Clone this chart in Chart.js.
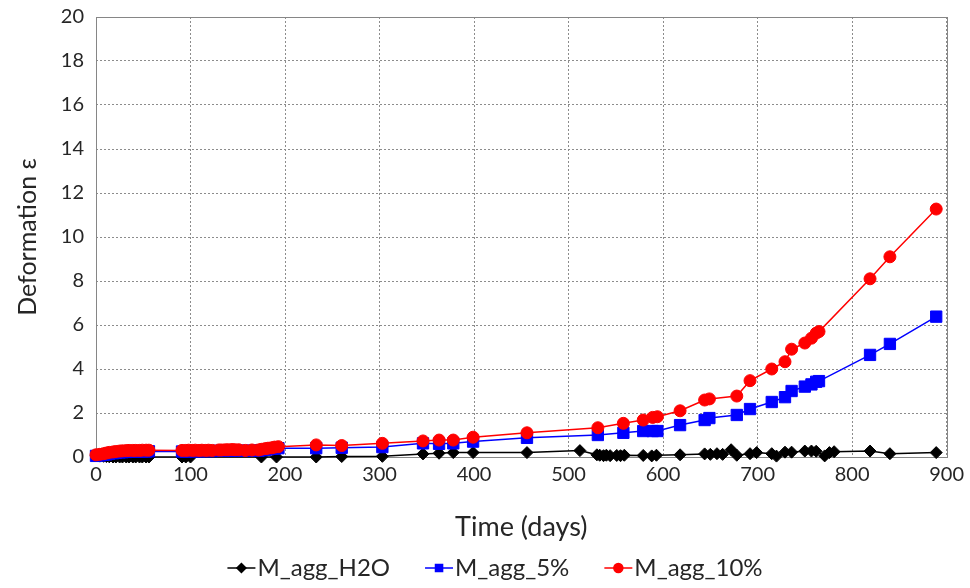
<!DOCTYPE html>
<html>
<head>
<meta charset="utf-8">
<script src="https://cdn.jsdelivr.net/npm/chart.js@4.4.1/dist/chart.umd.min.js"></script>
<style>
  html, body { margin: 0; padding: 0; background: #fff; }
</style>
</head>
<body>
<canvas id="chart" width="970" height="588"></canvas>
<script>
// --- DATA ---
const seriesNames = ['M_agg_H2O', 'M_agg_5%', 'M_agg_10%'];

const h2oDays = [0, 4, 8, 11, 14, 18, 21, 25, 28, 32, 35, 39, 42, 46, 49, 53, 56, 91, 95, 100, 175, 191, 233,
  260, 303, 346, 363, 378, 399, 456, 512, 530, 533, 537, 540, 544, 551, 555, 559, 579, 588, 593, 618,
  644, 650, 657, 663, 672, 678, 692, 699, 715, 720, 729, 736, 750, 757, 762, 771, 776, 781, 819, 840, 889];
const h2oValues = [0.05, 0.04, 0.03, 0.02, 0.01, 0, 0, 0, 0, 0, 0, 0, 0, 0, 0, 0, 0, 0, 0, 0, 0, 0, 0,
  0.02, 0.03, 0.14, 0.17, 0.2, 0.2, 0.2, 0.29, 0.1, 0.08, 0.06, 0.08, 0.06, 0.07, 0.06, 0.08, 0.07, 0.05, 0.08, 0.1,
  0.14, 0.12, 0.15, 0.12, 0.33, 0.08, 0.15, 0.2, 0.15, 0.04, 0.22, 0.22, 0.27, 0.27, 0.26, 0.05, 0.2, 0.24, 0.27, 0.15, 0.2];

// 5% and 10% were measured on the same days
const aggDays = [0, 4, 8, 11, 14, 18, 21, 25, 28, 32, 35, 39, 42, 46, 49, 53, 56,
  91, 95, 98, 102, 105, 109, 112, 116, 119, 123,
  130, 133, 137, 140, 144, 147, 151, 158, 165,
  172, 175, 179, 182, 186, 189, 193,
  233, 260, 303, 346, 363, 378, 399, 456, 531, 558, 579, 589, 594, 618,
  644, 649, 678, 692, 715, 729, 736, 750, 757, 762, 765, 819, 840, 889];
const agg5Values = [0.05, 0.07, 0.1, 0.12, 0.15, 0.17, 0.19, 0.21, 0.22, 0.23, 0.24, 0.24, 0.25, 0.25, 0.25, 0.25, 0.26,
  0.25, 0.25, 0.26, 0.26, 0.26, 0.26, 0.27, 0.27, 0.27, 0.27,
  0.28, 0.28, 0.28, 0.29, 0.29, 0.29, 0.29, 0.28, 0.29,
  0.29, 0.31, 0.33, 0.35, 0.37, 0.38, 0.4,
  0.4, 0.42, 0.45, 0.62, 0.6, 0.62, 0.7, 0.87, 1.0, 1.1, 1.18, 1.18, 1.18, 1.45,
  1.68, 1.77, 1.91, 2.18, 2.5, 2.72, 3.0, 3.2, 3.3, 3.42, 3.45, 4.64, 5.14, 6.38];
const agg10Values = [0.1, 0.12, 0.15, 0.18, 0.21, 0.23, 0.25, 0.27, 0.28, 0.29, 0.3, 0.3, 0.3, 0.3, 0.31, 0.31, 0.31,
  0.3, 0.3, 0.31, 0.3, 0.31, 0.3, 0.31, 0.3, 0.31, 0.3,
  0.32, 0.32, 0.33, 0.33, 0.34, 0.33, 0.33, 0.3, 0.32,
  0.32, 0.35, 0.38, 0.4, 0.42, 0.45, 0.47,
  0.55, 0.52, 0.62, 0.73, 0.77, 0.77, 0.9, 1.1, 1.33, 1.53, 1.68, 1.8, 1.83, 2.1,
  2.59, 2.64, 2.77, 3.47, 4.0, 4.33, 4.9, 5.18, 5.4, 5.63, 5.7, 8.1, 9.1, 11.27];

const xTickValues = [0, 100, 200, 300, 400, 500, 600, 700, 800, 900];
const yTickValues = [0, 2, 4, 6, 8, 10, 12, 14, 16, 18, 20];

// --- HELPERS ---
const FONT = 'Lato, "Open Sans", sans-serif';
const TEXT = '#262626';

function toPoints(days, values) {
    return days.map((d, i) => ({ x: d, y: values[i] }));
}

// solid frame round the plot area (Excel style)
const framePlugin = {
    id: 'frame',
    beforeDatasetsDraw(chart) {
        const { ctx, chartArea: a } = chart;
        ctx.save();
        ctx.strokeStyle = '#868686';
        ctx.lineWidth = 1;
        ctx.strokeRect(Math.round(a.left) + 0.5, Math.round(a.top) + 0.5,
            Math.round(a.right - a.left), Math.round(a.bottom - a.top));
        ctx.restore();
    }
};

// legend with a line through each marker, drawn under the x title
const lineLegendPlugin = {
    id: 'lineLegend',
    afterDraw(chart) {
        const { ctx } = chart;
        const sets = chart.data.datasets;
        const lineLen = 28, gap = 2, itemGap = 35;
        const centerX = 495, y = 568;
        ctx.save();
        ctx.font = '24px ' + FONT;
        ctx.textBaseline = 'middle';
        const widths = sets.map(ds => lineLen + gap + ctx.measureText(ds.label).width);
        const total = widths.reduce((s, w) => s + w, 0) + itemGap * (sets.length - 1);
        let x = centerX - total / 2;
        sets.forEach((ds, i) => {
            ctx.strokeStyle = ds.borderColor;
            ctx.lineWidth = 1.5;
            ctx.beginPath();
            ctx.moveTo(x, y);
            ctx.lineTo(x + lineLen, y);
            ctx.stroke();
            ctx.fillStyle = ds.pointBackgroundColor;
            ctx.strokeStyle = ds.pointBorderColor;
            Chart.helpers.drawPoint(ctx, {
                pointStyle: ds.pointStyle,
                radius: ds.pointStyle === 'rect' ? 5 : 4.5,
                borderWidth: 1,
                rotation: 0
            }, x + lineLen / 2, y);
            ctx.fillStyle = TEXT;
            ctx.fillText(ds.label, x + lineLen + gap, y);
            x += widths[i] + itemGap;
        });
        ctx.restore();
    }
};

function makeSeries(label, days, values, color, style, radius, order) {
    return {
        label: label,
        data: toPoints(days, values),
        borderColor: color,
        backgroundColor: color,
        pointBackgroundColor: color,
        pointBorderColor: color,
        pointStyle: style,
        pointRadius: radius,
        pointBorderWidth: 1,
        borderWidth: 1.5,
        tension: 0,
        order: order,
        clip: false
    };
}

const ctx = document.getElementById('chart');

new Chart(ctx, {
    type: 'line',
    data: {
        datasets: [
            makeSeries(seriesNames[0], h2oDays, h2oValues, '#000000', 'rectRot', 6, 2),
            makeSeries(seriesNames[1], aggDays, agg5Values, '#0000FF', 'rect', 8, 1),
            makeSeries(seriesNames[2], aggDays, agg10Values, '#FF0000', 'circle', 6, 0)
        ]
    },
    options: {
        responsive: false,
        animation: false,
        layout: { padding: { top: 17, right: 23, bottom: 45, left: 0 } },
        plugins: {
            legend: { display: false },
            tooltip: { enabled: false }
        },
        scales: {
            x: {
                type: 'linear',
                min: xTickValues[0],
                max: xTickValues[xTickValues.length - 1],
                afterBuildTicks: axis => { axis.ticks = xTickValues.map(v => ({ value: v })); },
                afterFit: axis => { axis.height = 86; },
                grid: { color: '#8c8c8c', lineWidth: 1, drawTicks: false },
                border: { display: false, dash: [2, 2] },
                ticks: { color: TEXT, font: { family: FONT, size: 20 }, padding: 6, maxRotation: 0 },
                title: {
                    display: true, text: 'Time (days)', color: TEXT,
                    font: { family: FONT, size: 27 }, padding: { top: 0, bottom: 0 }
                }
            },
            y: {
                min: yTickValues[0],
                max: yTickValues[yTickValues.length - 1],
                afterBuildTicks: axis => { axis.ticks = yTickValues.map(v => ({ value: v })); },
                afterFit: axis => {
                    axis.width = 96;
                    axis.paddingTop = 0;
                    axis.paddingBottom = 0;
                },
                grid: { color: '#8c8c8c', lineWidth: 1, drawTicks: false },
                border: { display: false, dash: [2, 2] },
                ticks: { color: TEXT, font: { family: FONT, size: 20 }, padding: 12 },
                title: {
                    display: true, text: 'Deformation ε', color: TEXT,
                    font: { family: FONT, size: 25 }, padding: { top: 13, bottom: 0 }
                }
            }
        }
    },
    plugins: [framePlugin, lineLegendPlugin]
});
</script>
</body>
</html>
